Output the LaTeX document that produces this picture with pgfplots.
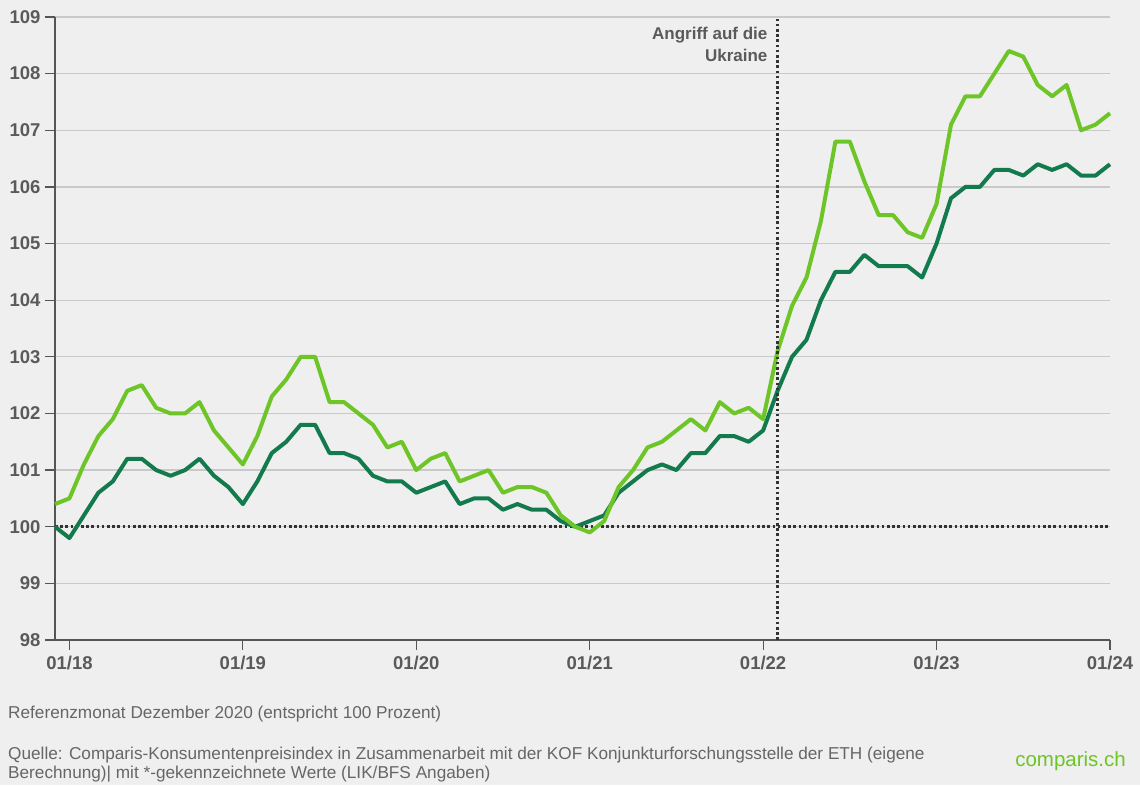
\documentclass[border=0pt]{standalone}
\usepackage{pgfplots}
\pgfplotsset{compat=1.18}
\usepackage{pgfplotstable}
\usepackage{fontspec}
\setmainfont{Liberation Sans}
\definecolor{bg}{HTML}{EFEFEF}
\definecolor{gridc}{HTML}{C9C9C9}
\definecolor{axc}{HTML}{555555}
\definecolor{txt}{HTML}{5A5A5A}
\definecolor{foot}{HTML}{666666}
\definecolor{lgreen}{HTML}{6EC527}
\definecolor{dgreen}{HTML}{137A4E}
\definecolor{dotc}{HTML}{333333}

\pgfplotstableread{
i v
0 100.0
1 99.8
2 100.2
3 100.6
4 100.8
5 101.2
6 101.2
7 101.0
8 100.9
9 101.0
10 101.2
11 100.9
12 100.7
13 100.4
14 100.8
15 101.3
16 101.5
17 101.8
18 101.8
19 101.3
20 101.3
21 101.2
22 100.9
23 100.8
24 100.8
25 100.6
26 100.7
27 100.8
28 100.4
29 100.5
30 100.5
31 100.3
32 100.4
33 100.3
34 100.3
35 100.1
36 100.0
37 100.1
38 100.2
39 100.6
40 100.8
41 101.0
42 101.1
43 101.0
44 101.3
45 101.3
46 101.6
47 101.6
48 101.5
49 101.7
50 102.4
51 103.0
52 103.3
53 104.0
54 104.5
55 104.5
56 104.8
57 104.6
58 104.6
59 104.6
60 104.4
61 105.0
62 105.8
63 106.0
64 106.0
65 106.3
66 106.3
67 106.2
68 106.4
69 106.3
70 106.4
71 106.2
72 106.2
73 106.4
}\darkdata

\pgfplotstableread{
i v
0 100.4
1 100.5
2 101.1
3 101.6
4 101.9
5 102.4
6 102.5
7 102.1
8 102.0
9 102.0
10 102.2
11 101.7
12 101.4
13 101.1
14 101.6
15 102.3
16 102.6
17 103.0
18 103.0
19 102.2
20 102.2
21 102.0
22 101.8
23 101.4
24 101.5
25 101.0
26 101.2
27 101.3
28 100.8
29 100.9
30 101.0
31 100.6
32 100.7
33 100.7
34 100.6
35 100.2
36 100.0
37 99.9
38 100.1
39 100.7
40 101.0
41 101.4
42 101.5
43 101.7
44 101.9
45 101.7
46 102.2
47 102.0
48 102.1
49 101.9
50 103.1
51 103.9
52 104.4
53 105.4
54 106.8
55 106.8
56 106.1
57 105.5
58 105.5
59 105.2
60 105.1
61 105.7
62 107.1
63 107.6
64 107.6
65 108.0
66 108.4
67 108.3
68 107.8
69 107.6
70 107.8
71 107.0
72 107.1
73 107.3
}\lightdata

\begin{document}
\begin{tikzpicture}[x=1pt,y=1pt]
\fill[bg] (0,0) rectangle (1140,785);
\begin{axis}[
  at={(55pt,145pt)}, anchor=south west,
  scale only axis, width=1055pt, height=623pt,
  xmin=0, xmax=73, ymin=98, ymax=109,
  axis x line*=bottom, axis y line*=left,
  axis line style={axc, line width=1.4pt, -},
  xtick={1,13,25,37,49,61,73},
  xticklabels={01/18,01/19,01/20,01/21,01/22,01/23,01/24},
  ytick={98,...,109},
  tick align=outside,
  major tick length=10pt,
  tick style={axc, line width=1.2pt},
  ymajorgrids, grid style={gridc, line width=1.2pt},
  /pgf/number format/assume math mode=true,
  ticklabel style={font=\fontsize{18.5}{21}\selectfont\bfseries, text=txt},
  xticklabel style={yshift=-3pt},
  yticklabel style={xshift=-1pt},
  clip=false,
]
\addplot[dotc, line width=2.6pt, dash pattern=on 2.6pt off 2.6pt] coordinates {(0,100) (73,100)};
\addplot[dgreen, line width=4pt, line join=round] table[x=i,y=v] {\darkdata};
\addplot[lgreen, line width=4pt, line join=round] table[x=i,y=v] {\lightdata};
\addplot[dotc, line width=2.6pt, dash pattern=on 2.6pt off 2.6pt] coordinates {(50,98) (50,109)};
\node[anchor=north east, align=right, inner sep=0pt, text=txt,
  font=\fontsize{17}{22}\selectfont\bfseries, xshift=-10pt, yshift=-10pt]
  at (axis cs:50,109) {Angriff auf die\\Ukraine};
\end{axis}
\node[anchor=base west, inner sep=0pt, text=foot, font=\fontsize{17.2}{20}\selectfont] at (8,66.7) {Referenzmonat Dezember 2020 (entspricht 100 Prozent)};
\node[anchor=base west, inner sep=0pt, text=foot, font=\fontsize{17.2}{20}\selectfont] at (8,26) {Quelle: Comparis-Konsumentenpreisindex in Zusammenarbeit mit der KOF Konjunkturforschungsstelle der ETH (eigene};
\node[anchor=base west, inner sep=0pt, text=foot, font=\fontsize{17.2}{20}\selectfont] at (8,7) {Berechnung)| mit *-gekennzeichnete Werte (LIK/BFS Angaben)};
\node[anchor=base east, inner sep=0pt, text=lgreen, font=\fontsize{20.5}{24}\selectfont] at (1126,18.3) {comparis.ch};
\end{tikzpicture}
\end{document}
